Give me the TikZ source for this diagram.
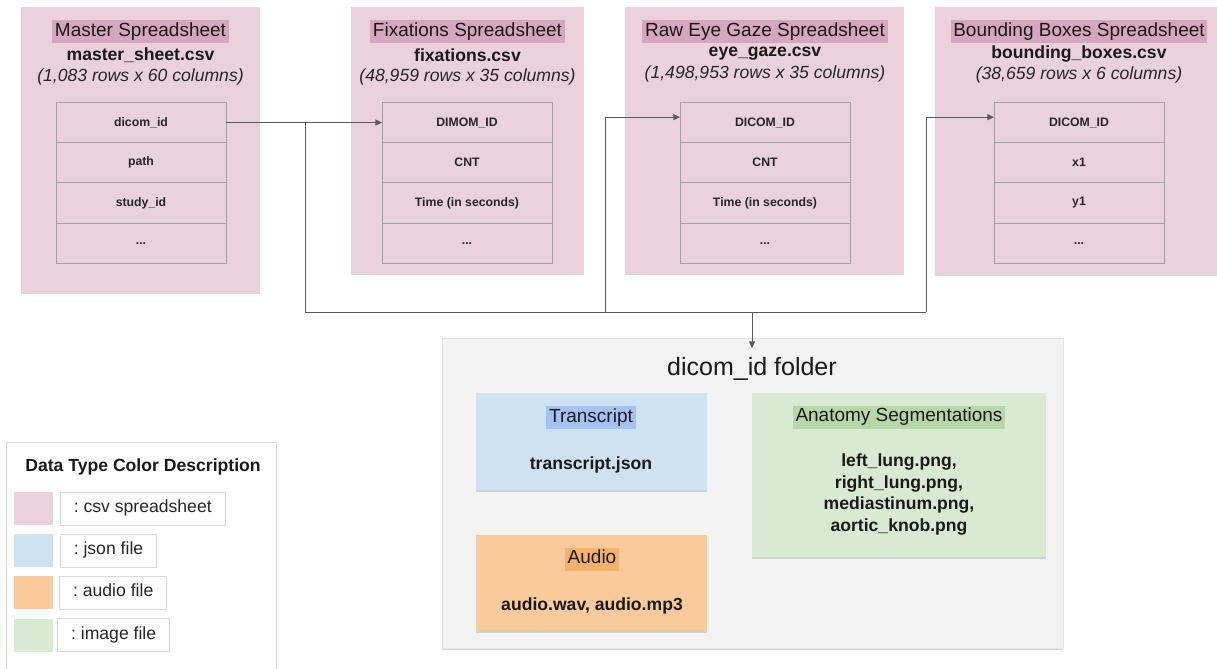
\documentclass[tikz,border=0pt]{standalone}
\usepackage{fontspec}
\setmainfont{Liberation Sans}
\usepackage{tikz}
\usetikzlibrary{positioning}
\usetikzlibrary{shadows, arrows.meta}
\frenchspacing

\definecolor{sheetpink}{HTML}{EAD1DC}
\definecolor{sheethl}{HTML}{D5A6BD}
\definecolor{jsonblue}{HTML}{CFE2F3}
\definecolor{jsonhl}{HTML}{A4C2F4}
\definecolor{audioorange}{HTML}{F9CB9C}
\definecolor{audiohl}{HTML}{F6B26B}
\definecolor{imggreen}{HTML}{D9EAD3}
\definecolor{imghl}{HTML}{B6D7A8}
\definecolor{foldergrey}{HTML}{F3F3F3}
\definecolor{cellline}{HTML}{A0A0A0}
\definecolor{wirec}{HTML}{5A5A5A}

\newcommand{\fnthead}{\fontsize{14.25}{17}\selectfont}
\newcommand{\fntfile}{\fontsize{13.2}{16.3}\selectfont}
\newcommand{\fntcell}{\fontsize{9.2}{11}\selectfont}
\newcommand{\fntbig}{\fontsize{18.75}{22}\selectfont}

\tikzset{
    card/.style={rectangle, drop shadow={shadow xshift=0.3pt, shadow yshift=-1.3pt, opacity=0.3}},
    hl/.style={inner xsep=2pt, inner ysep=0pt, minimum height=17.25pt, text height=10.3pt, text depth=3pt, font=\fnthead, text=black!90},
    fname/.style={font=\fntfile\bfseries, text=black!90},
    dims/.style={font=\fntfile\itshape, text=black!85},
    cell/.style={draw=cellline, line width=0.75pt, outer sep=0pt, minimum width=127.5pt, minimum height=30.2pt, font=\fntcell\bfseries, text=black!85},
    wire/.style={draw=wirec, line width=0.75pt},
    link/.style={wire, -{Triangle[length=5pt,width=4.5pt]}},
    swatch/.style={minimum width=29.25pt, minimum height=24.75pt, inner sep=0pt},
    tag/.style={draw=black!15, line width=0.75pt, inner xsep=10pt, inner ysep=0pt, minimum height=24.75pt, text height=9.5pt, text depth=2.8pt, font=\fntfile, text=black!85}
}

\begin{document}
\begin{tikzpicture}[x=0.75pt, y=-0.75pt]
    \useasboundingbox (0,0) rectangle (1217,668);
    \clip (0,0) rectangle (1217,668);

    % Master spreadsheet
    \node[card, fill=sheetpink, minimum width=179.25pt, minimum height=213.75pt] (master) at (140.5,149.5) {};
    \node[hl, fill=sheethl] (mtitle) at (140.5,31.5) {Master Spreadsheet};
    \node[fname] (mfile) at (140.5,55) {master\_sheet.csv};
    \node[dims] (mdims) at (140.5,77) {(1,083 rows x 60 columns)};
    \node[cell] (m1) at (141,122.5) {dicom\_id};
    \node[cell, below=0pt of m1] (m2) {path};
    \node[cell, below=0pt of m2] (m3) {study\_id};
    \node[cell, below=0pt of m3] (m4) {...};

    % Fixations spreadsheet
    \node[card, fill=sheetpink, minimum width=174.75pt, minimum height=199.5pt] (fix) at (467.5,140) {};
    \node[hl, fill=sheethl] (ftitle2) at (467.5,31.5) {Fixations Spreadsheet};
    \node[fname] (ffile) at (467.5,55) {fixations.csv};
    \node[dims] (fdims) at (467.5,77) {(48,959 rows x 35 columns)};
    \node[cell] (f1) at (467,122.5) {DIMOM\_ID};
    \node[cell, below=0pt of f1] (f2) {CNT};
    \node[cell, below=0pt of f2] (f3) {Time (in seconds)};
    \node[cell, below=0pt of f3] (f4) {...};

    % Raw eye gaze spreadsheet
    \node[card, fill=sheetpink, minimum width=209.25pt, minimum height=199.5pt] (gaze) at (764.5,140) {};
    \node[hl, fill=sheethl] (etitle) at (765,31.5) {Raw Eye Gaze Spreadsheet};
    \node[fname] (efile) at (765,54) {eye\_gaze.csv};
    \node[dims] (edims) at (765,74) {(1,498,953 rows x 35 columns)};
    \node[cell] (e1) at (765,122.5) {DICOM\_ID};
    \node[cell, below=0pt of e1] (e2) {CNT};
    \node[cell, below=0pt of e2] (e3) {Time (in seconds)};
    \node[cell, below=0pt of e3] (e4) {...};

    % Bounding boxes spreadsheet
    \node[card, fill=sheetpink, minimum width=216pt, minimum height=200.25pt] (bbox) at (1079,140.5) {};
    \node[hl, fill=sheethl] (btitle) at (1079,31.5) {Bounding Boxes Spreadsheet};
    \node[fname] (bfile) at (1079,54) {bounding\_boxes.csv};
    \node[dims] (bdims) at (1079,75) {(38,659 rows x 6 columns)};
    \node[cell] (b1) at (1079,122.5) {DICOM\_ID};
    \node[cell, below=0pt of b1] (b2) {x1};
    \node[cell, below=0pt of b2] (b3) {y1};
    \node[cell, below=0pt of b3] (b4) {...};

    % dicom_id folder
    \node[card, fill=foldergrey, draw=black!10, minimum width=465.75pt, minimum height=232.5pt] (folder) at (752.5,493) {};
    \node[font=\fntbig, anchor=base, inner ysep=6pt, text height=14pt, text=black!90] (ftitle) at (752,375) {dicom\_id folder};

    \node[card, fill=jsonblue, minimum width=173.25pt, minimum height=72.75pt] (trans) at (591.5,441.5) {};
    \node[hl, fill=jsonhl] (ttitle) at (591,417.5) {Transcript};
    \node[fname] (tfile) at (591,465) {transcript.json};

    \node[card, fill=audioorange, minimum width=173.25pt, minimum height=72pt] (audio) at (591.5,583) {};
    \node[hl, fill=audiohl] (atitle) at (592,559) {Audio};
    \node[fname] (afile) at (592,606) {audio.wav, audio.mp3};

    \node[card, fill=imggreen, minimum width=220.5pt, minimum height=123pt] (anat) at (899,475) {};
    \node[hl, fill=imghl] (ntitle) at (899,417) {Anatomy Segmentations};
    \node[fname, align=center] (nfile) at (899,494.5) {left\_lung.png,\\right\_lung.png,\\mediastinum.png,\\aortic\_knob.png};

    % Legend
    \node[draw=black!15, line width=0.75pt, minimum width=202.5pt, minimum height=178.5pt] (legend) at (141,561) {};
    \node[fname] (ltitle) at (143,467) {Data Type Color Description};
    \node[swatch, fill=sheetpink] (sw1) at (33.5,508.5) {};
    \node[tag, right=5pt of sw1] (lab1) {: csv spreadsheet};
    \node[swatch, fill=jsonblue] (sw2) at (33.5,550.5) {};
    \node[tag, right=5pt of sw2] (lab2) {: json file};
    \node[swatch, fill=audioorange] (sw3) at (33.5,592.5) {};
    \node[tag, right=4.5pt of sw3] (lab3) {: audio file};
    \node[swatch, fill=imggreen] (sw4) at (33.5,635) {};
    \node[tag, right=3pt of sw4] (lab4) {: image file};

    % Junctions
    \coordinate (jm) at (305,312);
    \coordinate (je) at (605,312);
    \coordinate (jd) at (752,312);
    \coordinate (jb) at (926,312);

    % Edges
    \draw[link] (m1.east) -- (f1.west);
    \draw[wire] (m1.east -| jm) -- (jm) -- (jb);
    \draw[link] (je) |- ([yshift=4pt]e1.west);
    \draw[link] (jb) |- ([yshift=4pt]b1.west);
    \draw[link] (jd) -- (ftitle.north);
\end{tikzpicture}
\end{document}
